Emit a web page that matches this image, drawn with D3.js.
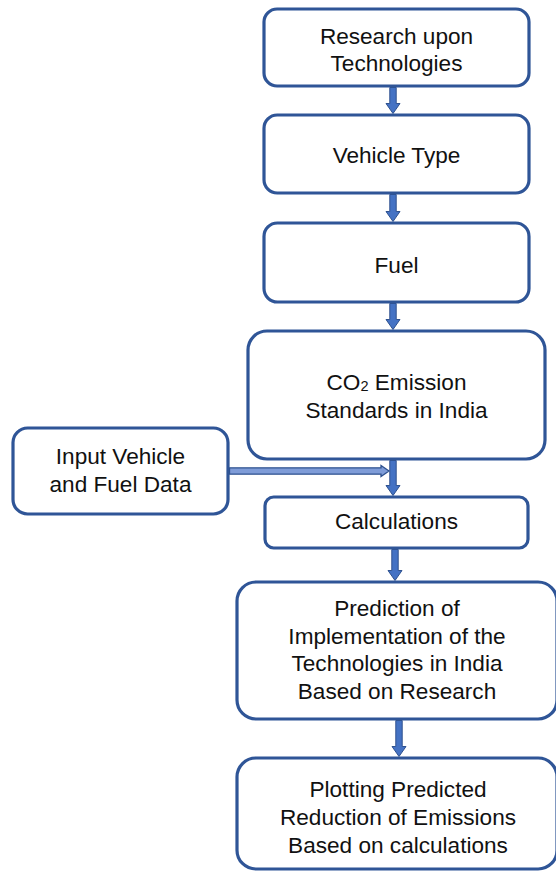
<!DOCTYPE html>
<html>
<head>
<meta charset="utf-8">
<script src="https://cdn.jsdelivr.net/npm/d3@7"></script>
<style>
  html, body { margin: 0; padding: 0; background: #fff; }
  svg { display: block; }
</style>
</head>
<body>
<div id="chart"></div>
<script>
// ---- Data: flowchart steps (labels) ----
const stepIds = ["research", "vehicle", "fuel", "co2", "input", "calc", "predict", "plot"];
const stepLabels = [
  ["Research upon", "Technologies"],
  ["Vehicle Type"],
  ["Fuel"],
  ["CO|2| Emission", "Standards in India"],
  ["Input Vehicle", "and Fuel Data"],
  ["Calculations"],
  ["Prediction of", "Implementation of the", "Technologies in India", "Based on Research"],
  ["Plotting Predicted", "Reduction of Emissions", "Based on calculations"]
];
// edges: [from, to]
const links = [
  ["research", "vehicle"],
  ["vehicle", "fuel"],
  ["fuel", "co2"],
  ["co2", "calc"],
  ["input", "calc"],
  ["calc", "predict"],
  ["predict", "plot"]
];

// ---- Layout (geometry, kept separate from data) ----
const W = 556, H = 872;
const layout = {
  research: { x: 264, y: 9,   w: 265, h: 77,  ty: 2 },
  vehicle:  { x: 264, y: 115, w: 265, h: 78,  ty: 1 },
  fuel:     { x: 264, y: 223, w: 265, h: 79,  ty: 3 },
  co2:      { x: 248, y: 331, w: 297, h: 128, ty: 1 },
  input:    { x: 13,  y: 428, w: 215, h: 86,  ty: -1 },
  calc:     { x: 265, y: 497, w: 263, h: 51,  ty: -1 },
  predict:  { x: 237, y: 582, w: 320, h: 137, ty: -1, tx: 397 },
  plot:     { x: 237, y: 758, w: 320, h: 111, ty: 3.5, tx: 398 }
};
const arrowX = { research: 393, vehicle: 393, fuel: 393, co2: 393, calc: 395, predict: 399 };
const flowY = 471;

const borderColor = "#2F5597";
const arrowFill = "#4472C4";
const arrowStroke = "#2F528F";
const fontFamily = "'Liberation Sans', Arial, sans-serif";
const fontSize = 22.6;
const lineH = 27.6;

const svg = d3.select("#chart").append("svg")
  .attr("width", W).attr("height", H)
  .attr("viewBox", `0 0 ${W} ${H}`);
svg.append("rect").attr("width", W).attr("height", H).attr("fill", "#fff");

const nodes = stepIds.map((id, i) => ({ id, lines: stepLabels[i], ...layout[id] }));
const byId = Object.fromEntries(nodes.map(n => [n.id, n]));

// ---- Arrows ----
function vArrow(x, y1, y2) {
  const sw = 3.2, hw = 7, hl = 10;
  return d3.line()([
    [x - sw, y1], [x + sw, y1], [x + sw, y2 - hl], [x + hw, y2 - hl],
    [x, y2], [x - hw, y2 - hl], [x - sw, y2 - hl]
  ]) + "Z";
}
function hArrow(x1, x2, y) {
  const sw = 3.2, hw = 5.5, hl = 8;
  return d3.line()([
    [x1, y - sw], [x2 - hl, y - sw], [x2 - hl, y - hw], [x2, y],
    [x2 - hl, y + hw], [x2 - hl, y + sw], [x1, y + sw]
  ]) + "Z";
}

const arrowG = svg.append("g");
links.forEach(([a, b]) => {
  const s = byId[a], t = byId[b];
  if (a === "input") {
    arrowG.append("path").attr("d", hArrow(s.x + s.w + 1.5, arrowX.co2 - 4, flowY))
      .attr("fill", "#7F9CD8").attr("stroke", arrowStroke).attr("stroke-width", 1.3);
  } else {
    const x = arrowX[a];
    arrowG.append("path").attr("d", vArrow(x, s.y + s.h + 1.5, t.y - 1.5))
      .attr("fill", arrowFill).attr("stroke", arrowStroke).attr("stroke-width", 1);
  }
});

// ---- Boxes ----
const g = svg.append("g").selectAll("g.node").data(nodes).join("g").attr("class", "node");
g.append("rect")
  .attr("x", d => d.x).attr("y", d => d.y)
  .attr("width", d => d.w).attr("height", d => d.h)
  .attr("rx", d => Math.min(19, Math.min(d.w, d.h) * 0.17))
  .attr("fill", "#fff")
  .attr("stroke", borderColor).attr("stroke-width", 3.2);

g.each(function(d) {
  const tx = d.tx != null ? d.tx : d.x + d.w / 2;
  const cy = d.y + d.h / 2 + (d.ty || 0);
  const n = d.lines.length;
  const text = d3.select(this).append("text")
    .attr("text-anchor", "middle")
    .attr("font-family", fontFamily)
    .attr("font-size", fontSize)
    .attr("fill", "#111");
  d.lines.forEach((line, i) => {
    const y = cy + (i - (n - 1) / 2) * lineH + fontSize * 0.35;
    const t = text.append("tspan").attr("x", tx).attr("y", y);
    const parts = line.split("|");
    parts.forEach((p, k) => {
      if (k % 2 === 1) {
        t.append("tspan").attr("font-size", 14.5).attr("dy", 1).text(p);
      } else {
        const sp = t.append("tspan").text(p);
        if (k > 0) sp.attr("dy", -1);
      }
    });
  });
});
</script>
</body>
</html>
